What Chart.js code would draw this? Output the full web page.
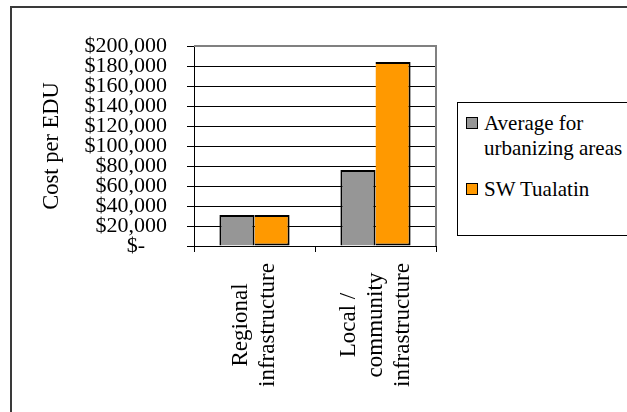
<!DOCTYPE html>
<html>
<head>
<meta charset="utf-8">
<script src="https://cdn.jsdelivr.net/npm/chart.js@4/dist/chart.umd.min.js"></script>
<style>
  html, body { margin: 0; padding: 0; background: #fff; overflow: hidden; }
  #wrap { position: relative; width: 627px; height: 412px; overflow: hidden; }
  #chart { position: absolute; left: 0; top: 0; }
  #frame {
    position: absolute; left: 10px; top: 6px; width: 700px; height: 500px;
    border-left: 2px solid #3a3a3a; border-top: 2px solid #3a3a3a;
    pointer-events: none;
  }
  #legend {
    position: absolute; left: 457px; top: 102px; width: 200px; height: 132px;
    border: 1px solid #000; background: #fff;
    font-family: "Liberation Serif", "Times New Roman", serif; font-size: 21px; color: #000;
  }
  .item { position: absolute; left: 0; }
  .swatch { position: absolute; left: 8px; width: 12px; height: 12px; box-sizing: border-box; border: 1px solid #000; }
  .label { position: absolute; left: 26px; white-space: nowrap; line-height: 25px; }
</style>
</head>
<body>
<div id="wrap">
  <canvas id="chart" width="627" height="412"></canvas>
  <div id="frame"></div>
  <div id="legend"></div>
</div>
<script>
// Cost per EDU by infrastructure type
const categories = [['Regional', 'infrastructure'], ['Local /', 'community', 'infrastructure']];
const seriesNames = [['Average for', 'urbanizing areas'], ['SW Tualatin']];
const averageUrbanizing = [31000, 76000];
const swTualatin = [31000, 184000];
const seriesColors = ['#969696', '#FF9900'];
const yMax = 200000;
const yStep = 20000;
const yTitle = 'Cost per EDU';

const serif = '"Liberation Serif", "Times New Roman", serif';

function money(v) {
  if (v === 0) return '$-    ';
  return '$' + v.toLocaleString('en-US');
}

// Category labels drawn rotated, each line centred along its own length
const categoryLabels = {
  id: 'categoryLabels',
  afterDraw(chart) {
    const ctx = chart.ctx;
    const x = chart.scales.x;
    const lineH = 27;
    const yCenter = 325;
    ctx.save();
    ctx.font = '23px ' + serif;
    ctx.fillStyle = '#000';
    ctx.textAlign = 'center';
    ctx.textBaseline = 'middle';
    categories.forEach((lines, i) => {
      const px = x.getPixelForValue(i);
      const n = lines.length;
      lines.forEach((line, k) => {
        ctx.save();
        ctx.translate(px + (k - (n - 1) / 2) * lineH, yCenter);
        ctx.rotate(-Math.PI / 2);
        ctx.fillText(line, 0, 0);
        ctx.restore();
      });
    });
    ctx.restore();
  }
};

// Grey top and right edges of the plot area
const plotFrame = {
  id: 'plotFrame',
  beforeDatasetsDraw(chart) {
    const {ctx, chartArea: a} = chart;
    ctx.save();
    ctx.strokeStyle = '#808080';
    ctx.lineWidth = 2;
    ctx.beginPath();
    ctx.moveTo(a.left, a.top);
    ctx.lineTo(a.right, a.top);
    ctx.lineTo(a.right, a.bottom);
    ctx.stroke();
    ctx.restore();
  }
};

const chart = new Chart(document.getElementById('chart'), {
  type: 'bar',
  data: {
    labels: categories.map(l => l.join(' ')),
    datasets: [
      {
        label: seriesNames[0].join(' '),
        data: averageUrbanizing,
        backgroundColor: seriesColors[0],
        borderColor: '#000',
        borderWidth: 2,
        borderSkipped: 'start'
      },
      {
        // shares its left edge with the grey bar's right border
        label: seriesNames[1].join(' '),
        data: swTualatin,
        backgroundColor: seriesColors[1],
        borderColor: '#000',
        borderWidth: 2,
        borderSkipped: 'left'
      }
    ]
  },
  options: {
    responsive: false,
    animation: false,
    events: [],
    layout: {padding: {top: 46, right: 191, bottom: 0, left: 0}},
    datasets: {bar: {categoryPercentage: 0.58, barPercentage: 1}},
    plugins: {legend: {display: false}, tooltip: {enabled: false}},
    scales: {
      x: {
        offset: true,
        grid: {offset: true, drawOnChartArea: false, drawTicks: true, tickLength: 6, color: '#000'},
        border: {display: true, color: '#000', width: 1},
        ticks: {display: false},
        afterFit(scale) { scale.height = 166; }
      },
      y: {
        min: 0,
        max: yMax,
        grid: {color: '#000', lineWidth: 1, tickLength: 7, tickColor: '#000'},
        border: {display: true, color: '#000', width: 1},
        ticks: {
          stepSize: yStep,
          autoSkip: false,
          padding: 20,
          color: '#000',
          font: {family: serif, size: 22},
          callback: (v) => money(v)
        },
        title: {
          display: true,
          text: yTitle,
          color: '#000',
          font: {family: serif, size: 22.5},
          padding: {top: 39, bottom: 0}
        },
        afterFit(scale) { scale.width = 194; }
      }
    }
  },
  plugins: [plotFrame, categoryLabels]
});

// Legend built from the dataset names and colours
const legend = document.getElementById('legend');
const itemTops = [8, 74];
seriesNames.forEach((lines, i) => {
  const item = document.createElement('div');
  item.className = 'item';
  item.style.top = itemTops[i] + 'px';
  const sw = document.createElement('div');
  sw.className = 'swatch';
  sw.style.top = '6px';
  sw.style.background = chart.data.datasets[i].backgroundColor;
  const lab = document.createElement('div');
  lab.className = 'label';
  lab.style.top = '0px';
  lab.innerHTML = lines.map(t => t.replace(/&/g, '&amp;').replace(/</g, '&lt;')).join('<br>');
  item.appendChild(sw);
  item.appendChild(lab);
  legend.appendChild(item);
});
</script>
</body>
</html>
